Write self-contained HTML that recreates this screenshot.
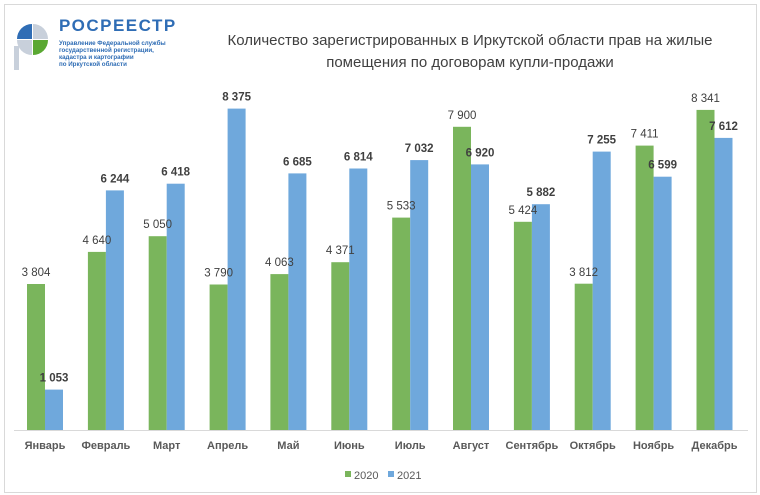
<!DOCTYPE html>
<html><head><meta charset="utf-8"><style>body{margin:0;background:#fff}svg{display:block}</style></head><body>
<svg width="760" height="495" xmlns="http://www.w3.org/2000/svg" font-family="Liberation Sans, DejaVu Sans, sans-serif">
<rect x="0" y="0" width="760" height="495" fill="#fff"/>
<rect x="4.5" y="4.5" width="752" height="488" fill="none" stroke="#d9d9d9"/>
<!-- logo -->
<g>
<path d="M32,24 A15,15 0 0 0 17,39 L32,39 Z" fill="#2f6db5"/>
<path d="M33,24 A15,15 0 0 1 48,39 L33,39 Z" fill="#c8d0db"/>
<path d="M17,40 A15,15 0 0 0 32,55 L32,40 Z" fill="#c8d0db"/>
<path d="M33,40 L48,40 A15,15 0 0 1 33,55 Z" fill="#5aa832"/>
<rect x="14" y="46" width="5" height="24" fill="#c8d0db"/>
</g>
<text x="59" y="31" font-size="17" font-weight="bold" fill="#2f6db5" letter-spacing="1.5">РОСРЕЕСТР</text>
<g font-size="6.2" font-weight="bold" fill="#2f6db5">
<text x="59" y="45">Управление Федеральной службы</text>
<text x="59" y="52">государственной регистрации,</text>
<text x="59" y="59">кадастра и картографии</text>
<text x="59" y="66">по Иркутской области</text>
</g>
<g font-size="15" fill="#404040" text-anchor="middle">
<text x="470" y="45">Количество  зарегистрированных  в Иркутской области прав  на жилые</text>
<text x="470" y="67">помещения  по договорам  купли-продажи</text>
</g>
<line x1="14" y1="430.5" x2="748" y2="430.5" stroke="#d9d9d9"/>
<g fill="#7ab55c">
<rect x="27" y="284" width="18" height="146"/>
<rect x="87.9" y="251.9" width="18" height="178.1"/>
<rect x="148.7" y="236.2" width="18" height="193.8"/>
<rect x="209.6" y="284.5" width="18" height="145.5"/>
<rect x="270.4" y="274.1" width="18" height="155.9"/>
<rect x="331.3" y="262.2" width="18" height="167.8"/>
<rect x="392.2" y="217.6" width="18" height="212.4"/>
<rect x="453" y="126.8" width="18" height="303.2"/>
<rect x="513.9" y="221.8" width="18" height="208.2"/>
<rect x="574.7" y="283.7" width="18" height="146.3"/>
<rect x="635.6" y="145.6" width="18" height="284.4"/>
<rect x="696.5" y="109.9" width="18" height="320.1"/>
</g>
<g fill="#6fa8dc">
<rect x="45" y="389.6" width="18" height="40.4"/>
<rect x="105.9" y="190.4" width="18" height="239.6"/>
<rect x="166.7" y="183.7" width="18" height="246.3"/>
<rect x="227.6" y="108.6" width="18" height="321.4"/>
<rect x="288.4" y="173.4" width="18" height="256.6"/>
<rect x="349.3" y="168.5" width="18" height="261.5"/>
<rect x="410.2" y="160.1" width="18" height="269.9"/>
<rect x="471" y="164.4" width="18" height="265.6"/>
<rect x="531.9" y="204.2" width="18" height="225.8"/>
<rect x="592.7" y="151.6" width="18" height="278.4"/>
<rect x="653.6" y="176.7" width="18" height="253.3"/>
<rect x="714.5" y="137.9" width="18" height="292.1"/>
</g>
<g font-size="11.5" fill="#404040" text-anchor="middle">
<text x="36" y="276">3 804</text>
<text x="96.9" y="244">4 640</text>
<text x="157.7" y="228">5 050</text>
<text x="218.6" y="276.5">3 790</text>
<text x="279.4" y="266">4 063</text>
<text x="340.3" y="254">4 371</text>
<text x="401.2" y="209.6">5 533</text>
<text x="462" y="119">7 900</text>
<text x="522.9" y="214">5 424</text>
<text x="583.7" y="276">3 812</text>
<text x="644.6" y="137.6">7 411</text>
<text x="705.5" y="102">8 341</text>
</g>
<g font-size="11.5" font-weight="bold" fill="#404040" text-anchor="middle">
<text x="54" y="381.6">1 053</text>
<text x="114.9" y="182.4">6 244</text>
<text x="175.7" y="175.7">6 418</text>
<text x="236.6" y="100.6">8 375</text>
<text x="297.4" y="165.4">6 685</text>
<text x="358.3" y="160.5">6 814</text>
<text x="419.2" y="152.1">7 032</text>
<text x="480" y="156.4">6 920</text>
<text x="540.9" y="196.2">5 882</text>
<text x="601.7" y="143.6">7 255</text>
<text x="662.6" y="168.7">6 599</text>
<text x="723.5" y="129.9">7 612</text>
</g>
<g font-size="11" font-weight="bold" fill="#595959" text-anchor="middle">
<text x="45" y="449">Январь</text>
<text x="105.9" y="449">Февраль</text>
<text x="166.7" y="449">Март</text>
<text x="227.6" y="449">Апрель</text>
<text x="288.4" y="449">Май</text>
<text x="349.3" y="449">Июнь</text>
<text x="410.2" y="449">Июль</text>
<text x="471" y="449">Август</text>
<text x="531.9" y="449">Сентябрь</text>
<text x="592.7" y="449">Октябрь</text>
<text x="653.6" y="449">Ноябрь</text>
<text x="714.5" y="449">Декабрь</text>
</g>
<rect x="345" y="471" width="6" height="6" fill="#7ab55c"/>
<text x="354" y="479" font-size="11" fill="#595959">2020</text>
<rect x="388" y="471" width="6" height="6" fill="#6fa8dc"/>
<text x="397" y="479" font-size="11" fill="#595959">2021</text>
</svg>
</body></html>
